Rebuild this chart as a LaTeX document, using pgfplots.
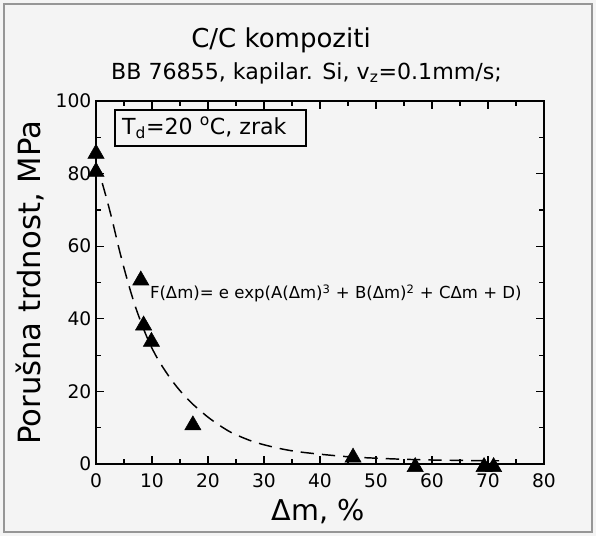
\documentclass[border=0pt]{standalone}
\usepackage{fontspec}
\setmainfont{DejaVu Sans}
\usepackage{pgfplots}
\pgfplotsset{compat=1.18}
\definecolor{bg}{RGB}{244,244,244}
\definecolor{frame}{RGB}{150,150,150}
\begin{document}
\begin{tikzpicture}[x=0.75pt,y=0.75pt]
\fill[bg] (0,0) rectangle (596,536);
\draw[frame, line width=1.2pt] (4,4) rectangle (592,532);
\node[font=\fontsize{19.5}{22}\selectfont] at (281,496) {C/C kompoziti};
\node[font=\fontsize{16.6}{20}\selectfont] at (306.5,463) {BB 76855, kapilar. Si, v\textsubscript{z}=0.1mm/s;};
\begin{axis}[
  at={(72pt,54pt)}, anchor=south west, scale only axis,
  width=336pt, height=272.25pt,
  xmin=0, xmax=80, ymin=0, ymax=100,
  xtick={0,10,...,80}, ytick={0,20,...,100},
  minor x tick num=1, minor y tick num=1,
  tick align=inside, major tick length=6pt, minor tick length=4pt,
  axis line style={line width=1.1pt}, tick style={line width=0.9pt, black},
  ticklabel style={font=\fontsize{14}{16}\selectfont},
  xticklabel style={yshift=-4pt},
  /pgf/number format/assume math mode=true,
  xlabel={Δm, \%}, ylabel={Porušna trdnost, MPa},
  xlabel style={font=\fontsize{21.5}{24}\selectfont, at={(axis description cs:0.496,-0.132)}, anchor=center},
  ylabel style={font=\fontsize{23}{26}\selectfont, at={(axis description cs:-0.147,0.499)}, anchor=center},
  clip=false,
]
\addplot[black, line width=1.1pt, dash pattern=on 10pt off 6pt, smooth] coordinates {
(0,83) (1,78) (2,72.5) (3,66.5) (4,60) (5,54) (6,48.5) (7,43.5) (8,39.2) (9,35.3)
(10,31.9) (11,29) (12,26.5) (13,24.2) (14,22.1) (15,20.2) (16,18.5) (17,16.9) (18,15.5)
(20,12.9) (22,10.7) (24,8.8) (26,7.4) (28,6.2) (30,5.3) (33,4.2) (36,3.4) (40,2.7)
(45,2.0) (50,1.6) (55,1.3) (60,1.1) (65,1.0) (70,0.9) (72,0.9)
};
\addplot[only marks, mark=triangle*, mark size=7pt, black] coordinates {
(0,85.5) (0,80.5) (8,50.6) (8.5,38.2) (9.9,33.7) (17.3,10.7) (45.9,1.8) (57,-0.8) (69.3,-0.8) (71,-0.8)
};
\draw[line width=1.1pt] (axis cs:3.4,87.6) rectangle (axis cs:37.5,97.5);
\node[anchor=west, inner sep=0pt, font=\fontsize{16.6}{18}\selectfont] at (axis cs:4.6,92.6) {T\textsubscript{d}=20 \textsuperscript{o}C, zrak};
\node[anchor=west, inner sep=0pt, font=\fontsize{12.4}{15}\selectfont] at (axis cs:9.6,47) {F(Δm)= e exp(A(Δm)\textsuperscript{3} + B(Δm)\textsuperscript{2} + CΔm + D)};
\end{axis}
\end{tikzpicture}
\end{document}
